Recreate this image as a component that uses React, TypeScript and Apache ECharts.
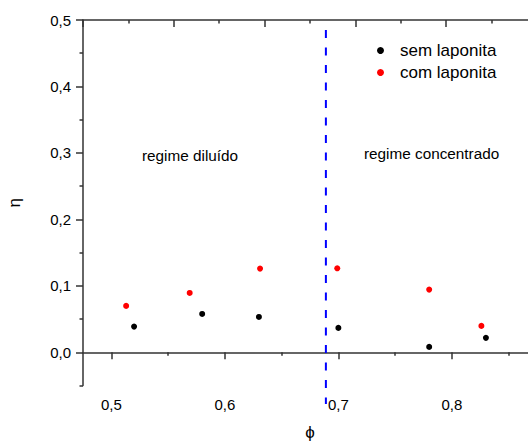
import React, { useEffect, useRef } from "react";
import * as echarts from "echarts";

const phiSem = [0.52, 0.58, 0.63, 0.7, 0.78, 0.83];
const etaSem = [0.0386, 0.0577, 0.0532, 0.0367, 0.0081, 0.0217];
const phiCom = [0.513, 0.569, 0.631, 0.699, 0.78, 0.826];
const etaCom = [0.0698, 0.0893, 0.1259, 0.1263, 0.0943, 0.0397];

const xMajor = [0.5, 0.6, 0.7, 0.8];
const xMinor = [0.55, 0.65, 0.75, 0.85];
const yMajor = [0, 0.1, 0.2, 0.3, 0.4, 0.5];
const yMinor = [-0.05, 0.05, 0.15, 0.25, 0.35, 0.45];

const phiLimit = 0.689;
const limitRange = [0.485, -0.078];

const seriesNames = ["sem laponita", "com laponita"];
const regimeLabels = ["regime diluído", "regime concentrado"];

const FONT = "'Liberation Sans', Arial, sans-serif";
const AX = "#333333";

const fmt = (v: number) => v.toFixed(1).replace(".", ",");

export default function App() {
  const ref = useRef<HTMLDivElement>(null);
  useEffect(() => {
    if (!ref.current) return;
    const chart = echarts.init(ref.current, undefined, { renderer: "svg" });
    const axisLine = { show: true, lineStyle: { color: AX, width: 1.5 } };
    chart.setOption({
      animation: false,
      backgroundColor: "#ffffff",
      textStyle: { fontFamily: FONT },
      grid: { left: 83, top: 20, width: 454, height: 365.5, containLabel: false, outerBoundsMode: "none" },
      legend: {
        data: seriesNames,
        orient: "vertical",
        left: 372,
        top: 37,
        icon: "circle",
        itemWidth: 7,
        itemHeight: 7,
        itemGap: 5,
        textStyle: { fontSize: 17, color: "#000", fontFamily: FONT, padding: [0, 0, 0, 11], lineHeight: 17 },
      },
      xAxis: [
        {
          type: "value",
          position: "bottom",
          min: 0.475,
          max: 0.875,
          axisLine,
          splitLine: { show: false },
          axisTick: { show: true, customValues: xMajor, length: 7, inside: false, lineStyle: { color: AX, width: 1.5 } },
          axisLabel: { customValues: xMajor, formatter: fmt, fontSize: 15, color: "#000", margin: 11, fontFamily: FONT },
          name: "ϕ",
          nameLocation: "middle",
          nameGap: 38,
          nameTextStyle: { fontSize: 17, color: "#000", fontFamily: FONT },
        },
        {
          type: "value",
          position: "bottom",
          min: 0.475,
          max: 0.875,
          axisLine: { show: false },
          splitLine: { show: false },
          axisTick: { show: true, customValues: xMinor, length: 3.5, lineStyle: { color: AX, width: 1.5 } },
          axisLabel: { show: false },
        },
        {
          type: "value",
          position: "top",
          min: 0,
          max: 5,
          interval: 1,
          axisLine,
          splitLine: { show: false },
          axisTick: { show: true, inside: true, length: 7, lineStyle: { color: AX, width: 1.5 } },
          minorTick: { show: true, splitNumber: 2, length: 3.5, lineStyle: { color: AX, width: 1.5 } },
          axisLabel: { show: false },
        },
      ],
      yAxis: [
        {
          type: "value",
          position: "left",
          min: -0.05,
          max: 0.5,
          axisLine,
          splitLine: { show: false },
          axisTick: { show: true, customValues: yMajor, length: 7, lineStyle: { color: AX, width: 1.5 } },
          axisLabel: { customValues: yMajor, formatter: fmt, fontSize: 15, color: "#000", margin: 12, fontFamily: FONT },
          name: "η",
          nameLocation: "middle",
          nameGap: 60,
          nameRotate: 90,
          nameTextStyle: { fontSize: 17, color: "#000", fontFamily: FONT },
        },
        {
          type: "value",
          position: "left",
          min: -0.05,
          max: 0.5,
          axisLine: { show: false },
          splitLine: { show: false },
          axisTick: { show: true, customValues: yMinor, length: 3.5, lineStyle: { color: AX, width: 1.5 } },
          axisLabel: { show: false },
        },
      ],
      graphic: [
        { type: "text", left: 142, top: 148, style: { text: regimeLabels[0], fontSize: 15.3, fill: "#000", fontFamily: FONT } },
        { type: "text", left: 364, top: 146, style: { text: regimeLabels[1], fontSize: 15.3, fill: "#000", fontFamily: FONT } },
      ],
      series: [
        {
          name: "limite",
          type: "line",
          data: [
            [phiLimit, limitRange[0]],
            [phiLimit, limitRange[1]],
          ],
          showSymbol: false,
          symbol: "none",
          clip: false,
          silent: true,
          lineStyle: { color: "#0000ff", width: 2, type: [8, 9.5] },
          z: 1,
        },
        {
          name: seriesNames[0],
          type: "scatter",
          data: phiSem.map((x, i) => [x, etaSem[i]]),
          symbol: "circle",
          symbolSize: 6,
          itemStyle: { color: "#000000", opacity: 1 },
          z: 3,
        },
        {
          name: seriesNames[1],
          type: "scatter",
          data: phiCom.map((x, i) => [x, etaCom[i]]),
          symbol: "circle",
          symbolSize: 6,
          itemStyle: { color: "#ff0000", opacity: 1 },
          z: 3,
        },
      ],
    });
    return () => chart.dispose();
  }, []);
  return (
    <div style={{ position: "fixed", left: 0, top: 0, width: 528, height: 444, overflow: "hidden", background: "#fff" }}>
      <div ref={ref} style={{ width: 570, height: 444 }} />
    </div>
  );
}
